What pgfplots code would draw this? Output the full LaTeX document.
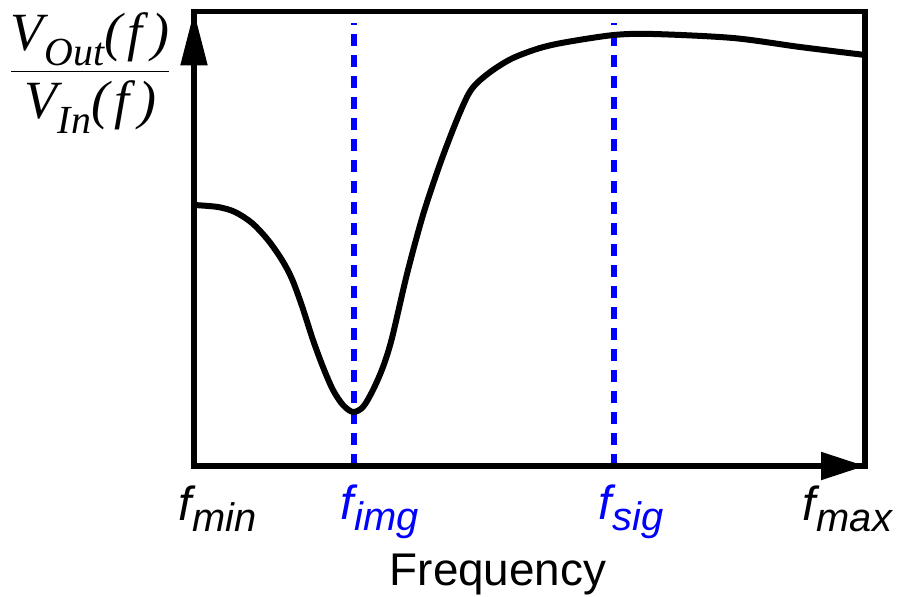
\documentclass[border=0pt]{standalone}
\usepackage{pgfplots}
\pgfplotsset{compat=1.18}
\usepackage{fontspec}
\setmainfont{Liberation Sans}
\newfontfamily\rmserif{Liberation Serif}
\usetikzlibrary{arrows.meta}

\definecolor{markblue}{RGB}{0,0,255}

% transfer-function label: V_{sub}(f) in serif italic
\newcommand{\vlab}[1]{\hbox{\rmserif\itshape\fontsize{27}{30}\selectfont
  V\kern0.02em\raisebox{-0.28em}{\fontsize{20}{22}\selectfont #1}(\kern0.1em f\kern0.16em)}}
% frequency labels: f with an italic subscript
\newcommand{\flab}[1]{{\itshape\fontsize{24}{28}\selectfont f\kern0.02em\raisebox{-0.24em}{\fontsize{20}{24}\selectfont #1}}}

\begin{document}
\begin{tikzpicture}
\begin{axis}[
  scale only axis,
  width=335.5bp, height=227.25bp,
  xmin=0, xmax=671, ymin=0, ymax=454.5,
  xtick=\empty, ytick=\empty,
  axis line style={line width=2.6bp},
  clip=false,
]
% image and signal frequencies
\addplot[draw=markblue, line width=2.6bp, dash pattern=on 6bp off 4.5bp]
  coordinates {(160,0) (160,443)};
\addplot[draw=markblue, line width=2.6bp, dash pattern=on 6bp off 4.5bp]
  coordinates {(420,0) (420,443)};
% magnitude response
\addplot[black, line width=3bp, smooth, tension=0.5] coordinates {
  (0,261) (24,259) (41,254) (58,243) (74,226) (88,206) (98,187)
  (108,160) (119,126) (129,99) (139,76) (149,61) (159,54) (169,59)
  (179,76) (189,99) (198,128) (213,192) (229,251) (246,302) (262,344)
  (274,371) (283,383) (299,396) (319,408) (346,418) (373,424)
  (420,431) (459,432) (539,428) (606,419) (671,411)
};
% axis arrows
\draw[line width=2.6bp, -{Triangle[length=27bp,width=13bp]}]
  (rel axis cs:0,0) -- (rel axis cs:0,1);
\draw[line width=2.6bp, -{Triangle[length=22bp,width=13.5bp]}]
  (rel axis cs:0,0) -- (rel axis cs:1,0);
% labels
\node[anchor=base west, inner sep=0pt] at (axis cs:-16,-54) {\flab{min}};
\node[anchor=base west, inner sep=0pt, text=markblue] at (axis cs:146,-53) {\flab{img}};
\node[anchor=base west, inner sep=0pt, text=markblue] at (axis cs:404,-53) {\flab{sig}};
\node[anchor=base west, inner sep=0pt] at (axis cs:608,-54) {\flab{max}};
\node[anchor=base, inner sep=0pt] at (axis cs:304,-119) {\fontsize{23}{27}\selectfont Frequency};
\node[inner sep=0pt] at (axis cs:-104,393) {\fontsize{26}{30}\selectfont$\displaystyle\frac{\vlab{Out}}{\vlab{In}}$};
\path[use as bounding box] (axis cs:-194,-131) rectangle (axis cs:707,466);
\end{axis}
\end{tikzpicture}
\end{document}
